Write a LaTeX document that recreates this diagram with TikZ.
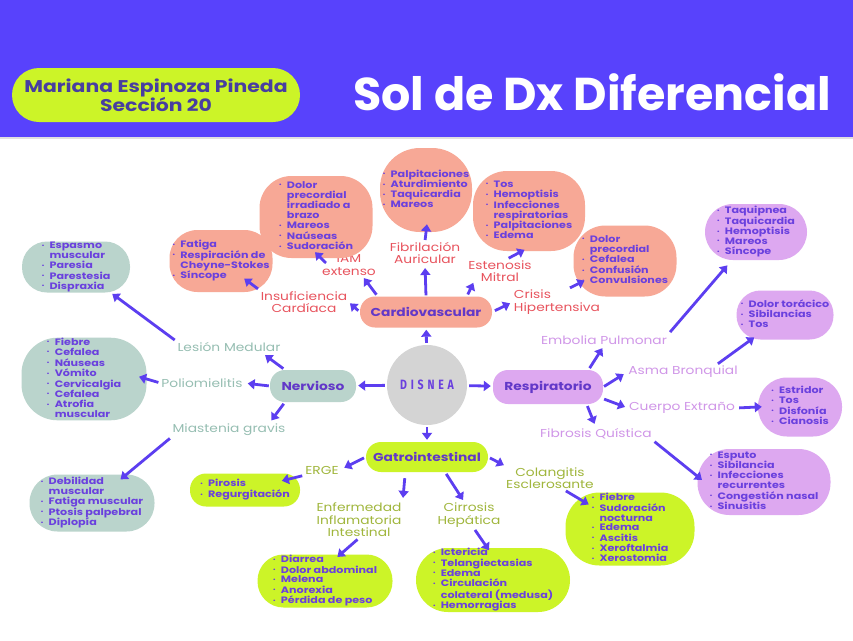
\documentclass[tikz,border=0pt]{standalone}
\usepackage{fontspec}
\setmainfont{Poppins}
\newfontfamily\widefont[FakeStretch=1.2]{Poppins}
\newfontfamily\disfont[FakeStretch=0.78,LetterSpace=28]{Fira Sans}
\usepackage{tikz}
\usetikzlibrary{arrows.meta,calc}

\definecolor{hdrblue}{RGB}{88,66,252}
\definecolor{lime}{RGB}{204,244,40}
\definecolor{salmon}{RGB}{247,168,150}
\definecolor{sage}{RGB}{186,212,204}
\definecolor{lilac}{RGB}{221,168,240}
\definecolor{disgray}{RGB}{212,212,212}
\definecolor{arrowcol}{RGB}{92,62,240}
\definecolor{bultxt}{RGB}{106,64,222}
\definecolor{pilltxt}{RGB}{98,56,200}
\definecolor{nametxt}{RGB}{72,62,160}
\definecolor{cvtxt}{RGB}{232,84,94}
\definecolor{nvtxt}{RGB}{150,190,178}
\definecolor{rstxt}{RGB}{208,150,232}
\definecolor{gitxt}{RGB}{160,182,60}

\newcommand{\bl}{\raisebox{1.4pt}{\fontsize{5}{5}\selectfont\textbullet}}
\newcommand{\sxlist}[1]{\begin{tabular}{@{}l@{\hspace{5pt}}l@{}}#1\end{tabular}}

\begin{document}
\begin{tikzpicture}[x = 1pt, y = -1pt,
  arr/.style = {-{Triangle[length=7pt,width=10pt]}, line width=2.8pt, draw=arrowcol, shorten <=2pt, shorten >=2pt},
  sx/.style = {inner sep=0pt, font=\widefont\bfseries\fontsize{9.3}{9.7}\selectfont, text=bultxt},
  cvsx/.style = {sx, fill=salmon},
  nvsx/.style = {sx, fill=sage},
  rssx/.style = {sx, fill=lilac},
  gisx/.style = {sx, fill=lime},
  lab/.style = {align=center, inner sep=1pt, font=\widefont\fontsize{11.5}{12.5}\selectfont},
  cvlab/.style = {lab, text=cvtxt},
  nvlab/.style = {lab, text=nvtxt},
  rslab/.style = {lab, text=rstxt},
  gilab/.style = {lab, text=gitxt},
  pill/.style = {rounded corners=15pt, inner sep=0pt, minimum height=31pt, font=\widefont\bfseries\fontsize{11.5}{12}\selectfont, text=pilltxt}]

\useasboundingbox (0,0) rectangle (853,640);
\fill [white] (0,0) rectangle (853,640);
\fill [hdrblue] (0,0) rectangle (853,137);
\draw [black!12, line width=2pt] (0,138) -- (853,138);
\node [fill=lime, rounded corners=27pt, minimum width=288pt, minimum height=54pt, align=center, text=nametxt, font=\widefont\bfseries\fontsize{17}{19}\selectfont] (name) at (156,95) {Mariana Espinoza Pineda\\Sección 20};
\node [text=white, font=\bfseries\fontsize{46}{50}\selectfont] (title) at (592,92) {Sol de Dx Diferencial};

\node [circle, fill=disgray, minimum size=80pt, text=bultxt, font=\disfont\bfseries\fontsize{13.5}{13.5}\selectfont] (dis) at (427,385) {DISNEA};
\node [pill, fill=salmon, minimum width=132pt] (cv) at (426,312) {Cardiovascular};
\node [pill, fill=sage, minimum width=86pt, minimum height=32pt] (nv) at (313,386) {Nervioso};
\node [pill, fill=lilac, minimum width=110pt, minimum height=34pt] (rs) at (548,387) {Respiratorio};
\node [pill, fill=lime, minimum width=122pt, minimum height=30pt] (gi) at (427,457) {Gatrointestinal};

\draw [arr] (dis) -- (cv);
\draw [arr] (dis) -- (nv);
\draw [arr] (dis) -- (rs);
\draw [arr] (dis) -- (gi);

\node [cvlab] (ic) at (304,302) {Insuficiencia\\Cardíaca};
\node [cvsx, rounded corners=28pt, minimum width=103pt, minimum height=62pt] (icbox) at (221,261) {\sxlist{\bl & Fatiga\\ \bl & Respiración de\\ & Cheyne-Stokes\\ \bl & Síncope}};
\node [cvlab] (iam) at (349,265) {IAM\\extenso};
\node [cvsx, rounded corners=32pt, minimum width=113pt, minimum height=82pt] (iambox) at (316,217) {\sxlist{\bl & Dolor\\ & precordial\\ & irradiado a\\ & brazo\\ \bl & Mareos\\ \bl & Naúseas\\ \bl & Sudoración}};
\node [cvlab] (fa) at (425,253) {Fibrilación\\Auricular};
\node [cvsx, rounded corners=40pt, minimum width=92pt, minimum height=84pt] (fabox) at (426,190) {\sxlist{\bl & Palpitaciones\\ \bl & Aturdimiento\\ \bl & Taquicardia\\ \bl & Mareos}};
\node [cvlab] (em) at (500,271) {Estenosis\\Mitral};
\node [cvsx, rounded corners=34pt, minimum width=112pt, minimum height=80pt] (embox) at (529,211) {\sxlist{\bl & Tos\\ \bl & Hemoptisis\\ \bl & Infecciones\\ & respiratorias\\ \bl & Palpitaciones\\ \bl & Edema}};
\node [cvlab, align=left] (ch) at (557,302) {Crisis\\Hipertensiva};
\node [cvsx, rounded corners=32pt, minimum width=103pt, minimum height=71pt] (chbox) at (625,261) {\sxlist{\bl & Dolor\\ & precordial\\ \bl & Cefalea\\ \bl & Confusión\\ \bl & Convulsiones}};

\draw [arr] (cv.west) -- (ic.east);
\draw [arr, shorten >=29pt] (ic.north west) -- (icbox.center);
\draw [arr] (cv.162) -- (iam.-40);
\draw [arr, shorten <=0pt, shorten >=0pt] ($(iam.west)+(5,-2)$) -- ($(iambox.south)+(-1,-6)$);
\draw [arr, shorten <=1pt, shorten >=3pt] (cv.north) -- (fa.south);
\draw [arr, shorten <=1pt, shorten >=-8pt] (fa.north) -- (fabox.south);
\draw [arr, shorten >=0pt] (cv.21) -- (em.204);
\draw [arr, shorten >=-3pt] (em.60) -- (embox.-100);
\draw [arr, shorten <=3pt, shorten >=3pt] (cv.east) -- (ch.west);
\draw [arr, shorten >=45pt] (ch.50) -- (chbox.center);

\node [nvlab] (lm) at (229,347) {Lesión Medular};
\node [nvsx, rounded corners=25pt, minimum width=108pt, minimum height=51pt] (lmbox) at (76,267) {\sxlist{\bl & Espasmo\\ & muscular\\ \bl & Paresia\\ \bl & Parestesia\\ \bl & Dispraxia}};
\node [nvlab] (po) at (202,383) {Poliomielitis};
\node [nvsx, rounded corners=36pt, minimum width=125pt, minimum height=82pt] (pobox) at (84,379) {\sxlist{\bl & Fiebre\\ \bl & Cefalea\\ \bl & Náuseas\\ \bl & Vómito\\ \bl & Cervicalgia\\ \bl & Cefalea\\ \bl & Atrofia\\ & muscular}};
\node [nvlab] (mg) at (229,430) {Miastenia gravis};
\node [nvsx, rounded corners=28pt, minimum width=125pt, minimum height=57pt] (mgbox) at (92,503) {\sxlist{\bl & Debilidad\\ & muscular\\ \bl & Fatiga muscular\\ \bl & Ptosis palpebral\\ \bl & Diplopía}};

\draw [arr, shorten >=4pt] (nv.150) -- (lm.-10);
\draw [arr, shorten >=45pt] (lm.north west) -- (lmbox.center);
\draw [arr, shorten <=1pt, shorten >=4pt] (nv.west) -- (po.east);
\draw [arr, shorten >=-8pt] (po.west) -- (pobox.east);
\draw [arr, shorten >=3pt] (nv.-150) -- (mg.10);
\draw [arr, shorten >=37pt] (mg.south west) -- (mgbox.center);

\node [rslab] (ep) at (604,340) {Embolia Pulmonar};
\node [rssx, rounded corners=28pt, minimum width=102pt, minimum height=56pt] (epbox) at (756,232) {\sxlist{\bl & Taquipnea\\ \bl & Taquicardia\\ \bl & Hemoptisis\\ \bl & Mareos\\ \bl & Síncope}};
\node [rslab] (ab) at (683,372) {Asma Bronquial};
\node [rssx, rounded corners=24pt, minimum width=97pt, minimum height=49pt] (abbox) at (785,315) {\sxlist{\bl & Dolor torácico\\ \bl & Sibilancias\\ \bl & Tos}};
\node [rslab] (ce) at (682,408) {Cuerpo Extraño};
\node [rssx, rounded corners=29pt, minimum width=84pt, minimum height=59pt] (cebox) at (800,407) {\sxlist{\bl & Estridor\\ \bl & Tos\\ \bl & Disfonía\\ \bl & Cianosis}};
\node [rslab] (fq) at (596,434) {Fibrosis Quística};
\node [rssx, rounded corners=32pt, minimum width=133pt, minimum height=66pt] (fqbox) at (764,482) {\sxlist{\bl & Esputo\\ \bl & Sibilancia\\ \bl & Infecciones\\ & recurrentes\\ \bl & Congestión nasal\\ \bl & Sinusitis}};

\draw [arr, shorten >=3pt] (rs.23) -- (ep.south);
\draw [arr, shorten <=3pt, shorten >=44pt] (ep.north east) -- (epbox.center);
\draw [arr, shorten <=1pt, shorten >=4pt] (rs.east) -- (ab.west);
\draw [arr, shorten >=38pt] (ab.12) -- (abbox.center);
\draw [arr, shorten <=1pt, shorten >=3pt] (rs.-12) -- (ce.west);
\draw [arr, shorten <=3pt, shorten >=-4pt] (ce.east) -- (cebox.west);
\draw [arr, shorten >=4pt] (rs.-24) -- (fq.north);
\draw [arr, shorten >=-6pt] (fq.south east) -- (fqbox.175);

\node [gilab] (erge) at (322,470) {ERGE};
\node [gisx, rounded corners=16pt, minimum width=110pt, minimum height=33pt] (ergebox) at (245,490) {\sxlist{\bl & Pirosis\\ \bl & Regurgitación}};
\node [gilab] (eii) at (359,520) {Enfermedad\\Inflamatoria\\Intestinal};
\node [gisx, rounded corners=26pt, minimum width=135pt, minimum height=53pt] (eiibox) at (325,581) {\sxlist{\bl & Diarrea\\ \bl & Dolor abdominal\\ \bl & Melena\\ \bl & Anorexia\\ \bl & Pérdida de peso}};
\node [gilab] (cir) at (469,515) {Cirrosis\\Hepática};
\node [gisx, rounded corners=32pt, minimum width=154pt, minimum height=64pt] (cirbox) at (493,580) {\sxlist{\bl & Ictericia\\ \bl & Telangiectasias\\ \bl & Edema\\ \bl & Circulación\\ & colateral (medusa)\\ \bl & Hemorragias}};
\node [gilab] (col) at (550,478) {Colangitis\\Esclerosante};
\node [gisx, rounded corners=34pt, minimum width=129pt, minimum height=73pt] (colbox) at (630,529) {\sxlist{\bl & Fiebre\\ \bl & Sudoración\\ & nocturna\\ \bl & Edema\\ \bl & Ascitis\\ \bl & Xeroftalmia\\ \bl & Xerostomia}};

\draw [arr, shorten >=5pt] (gi.west) -- (erge.east);
\draw [arr, shorten >=38pt] (erge.south west) -- (ergebox.center);
\draw [arr, shorten <=6pt, shorten >=4pt] (gi.-145) -- (eii.north east);
\draw [arr, shorten >=-4pt] (eii.south) -- (eiibox.60);
\draw [arr] (gi.-40) -- (cir.110);
\draw [arr, shorten >=-3pt] (cir.-70) -- (cirbox.100);
\draw [arr, shorten >=2pt] (gi.east) -- (col.165);
\draw [arr, shorten >=48pt] (col.-40) -- (colbox.center);
\end{tikzpicture}
\end{document}
